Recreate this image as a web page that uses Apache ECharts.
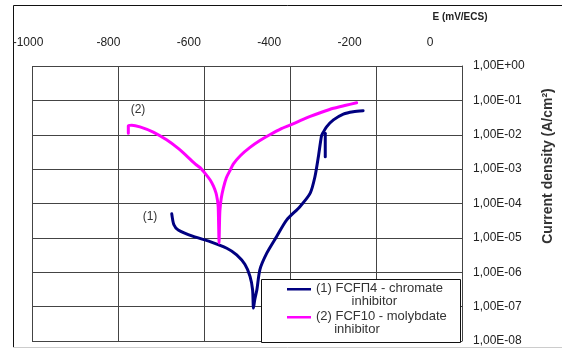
<!DOCTYPE html>
<html>
<head>
<meta charset="utf-8">
<script src="https://cdn.jsdelivr.net/npm/echarts@6/dist/echarts.min.js"></script>
<style>
  html, body { margin: 0; padding: 0; background: #fff; }
  #chart { width: 562px; height: 352px; }
</style>
</head>
<body>
<div id="chart"></div>
<script>
const xTicks = [-1000, -800, -600, -400, -200, 0]

// (1) FCFП4 - chromate inhibitor
const chromateE = [-675, -670, -660, -625, -586, -547, -524, -505, -493, -487, -485, -482, -477, -470, -454,
  -431, -408, -377, -353, -342, -334, -327, -324, -315, -299, -276, -253, -230]
const chromateI = [5.0e-5, 2.4e-5, 1.7e-5, 1.1e-5, 7.8e-6, 5.0e-6, 3.2e-6, 1.7e-6, 7.6e-7, 3.1e-7, 9.1e-8, 1.6e-7, 3.1e-7, 1.2e-6, 3.6e-6,
  1.1e-5, 3.3e-5, 8.1e-5, 2.0e-4, 6.0e-4, 2.3e-3, 8.9e-3, 1.1e-2, 1.7e-2, 2.7e-2, 4.0e-2, 4.7e-2, 5.0e-2]
// short tail near -320 mV
const chromateStubE = [-318, -318]
const chromateStubI = [1.1e-2, 2.3e-3]

// (2) FCF10 - molybdate inhibitor
const molybdateE = [-776, -776, -768, -749, -718, -687, -660, -640, -620, -609, -597, -586, -578, -572, -569, -567,
  -566, -565, -564, -563, -560, -555, -548, -540, -532, -515, -493, -470, -447, -420, -400, -375, -353, -325, -299, -270, -245]
const molybdateI = [1.1e-2, 1.8e-2, 1.9e-2, 1.7e-2, 1.2e-2, 7.1e-3, 4.0e-3, 2.4e-3, 1.4e-3, 1.1e-3, 7.4e-4, 4.9e-4, 3.2e-4, 2.0e-4, 1.3e-4, 8.1e-5,
  2.5e-5, 7.1e-6, 2.5e-5, 6.3e-5, 1.4e-4, 2.8e-4, 5.6e-4, 8.9e-4, 1.4e-3, 2.5e-3, 4.3e-3, 6.8e-3, 1.0e-2, 1.5e-2, 1.9e-2, 2.6e-2, 3.4e-2, 4.6e-2, 5.9e-2, 7.2e-2, 8.5e-2]

const seriesNames = ['(1) FCFП4 - chromate inhibitor', '(2) FCF10 - molybdate inhibitor']
const legendText = {
  '(1) FCFП4 - chromate inhibitor': '{a|(1) FCFП4 - chromate}\n{b|inhibitor}',
  '(2) FCF10 - molybdate inhibitor': '{a|(2) FCF10 - molybdate}\n{c|inhibitor}'
}

const zip = (xs, ys) => xs.map((x, i) => [x, ys[i]])
const font = 'Liberation Sans, Arial, sans-serif'

const chart = echarts.init(document.getElementById('chart'))
const option = {
  backgroundColor: '#fff',
  animation: false,
  textStyle: { fontFamily: font },
  grid: [
    { left: 32, top: 66, width: 430, height: 275 },
    // label-only axis for the potential scale at the top
    { left: 28, top: 52, width: 402, height: 1, show: false }
  ],
  xAxis: [
    {
      gridIndex: 0,
      type: 'value',
      min: -1000,
      max: 0,
      interval: 200,
      position: 'top',
      axisLine: { show: false },
      axisTick: { show: false },
      axisLabel: { show: false },
      splitLine: { show: true, lineStyle: { color: '#444', width: 1 } }
    },
    {
      gridIndex: 1,
      type: 'value',
      min: xTicks[0],
      max: xTicks[xTicks.length - 1],
      interval: 200,
      position: 'top',
      axisLine: { show: false },
      axisTick: { show: false },
      splitLine: { show: false },
      axisLabel: {
        margin: 3,
        color: '#222',
        fontSize: 12,
        fontFamily: font,
        formatter: v => String(v)
      }
    }
  ],
  yAxis: [
    {
      gridIndex: 0,
      type: 'log',
      logBase: 10,
      min: 1e-8,
      max: 1,
      position: 'right',
      axisLine: { show: true, lineStyle: { color: '#444' } },
      axisTick: { show: false },
      splitLine: { show: true, lineStyle: { color: '#444', width: 1 } },
      axisLabel: {
        margin: 11,
        color: '#222',
        fontSize: 12,
        fontFamily: font,
        formatter(v) {
          const e = Math.round(Math.log10(v))
          return '1,00E' + (e >= 0 ? '+' : '-') + String(Math.abs(e)).padStart(2, '0')
        }
      }
    },
    {
      gridIndex: 1,
      type: 'value',
      show: false
    }
  ],
  legend: {
    data: seriesNames,
    orient: 'vertical',
    left: 287,
    top: 282,
    padding: 0,
    itemGap: 2,
    itemWidth: 24,
    itemHeight: 14,
    selectedMode: false,
    icon: 'path://M0,0H24V2.6H0Z M0,13.9H0.05V14H0Z',
    formatter: name => legendText[name],
    textStyle: {
      color: '#333',
      fontSize: 13,
      lineHeight: 13,
      fontFamily: font,
      rich: {
        a: { color: '#333', fontSize: 13, lineHeight: 13, fontFamily: font },
        b: { color: '#333', fontSize: 13, lineHeight: 13, fontFamily: font, align: 'right', padding: [0, 46, 0, 0] },
        c: { color: '#333', fontSize: 13, lineHeight: 13, fontFamily: font, align: 'right', padding: [0, 67, 0, 0] }
      }
    }
  },
  graphic: [
    {
      type: 'polyline',
      shape: { points: [[562, 5.5], [13.5, 5.5], [13.5, 348]] },
      style: { stroke: '#111', lineWidth: 1, fill: null }
    },
    {
      type: 'line',
      shape: { x1: 13, y1: 347.5, x2: 562, y2: 347.5 },
      style: { stroke: '#ccc', lineWidth: 1 }
    },
    {
      type: 'rect',
      z: 3,
      shape: { x: 261.5, y: 279.5, width: 199, height: 63 },
      style: { fill: '#fff', stroke: '#111', lineWidth: 1 }
    },
    {
      type: 'text',
      x: 460,
      y: 17,
      style: { text: 'E (mV/ECS)', fill: '#222', font: 'bold 10px ' + font, align: 'center', verticalAlign: 'middle' }
    },
    {
      type: 'text',
      x: 548,
      y: 166,
      rotation: Math.PI / 2,
      style: { text: 'Current density (A/cm²)', fill: '#333', font: 'bold 14px ' + font, align: 'center', verticalAlign: 'middle' }
    },
    {
      type: 'text',
      x: 150,
      y: 217,
      style: { text: '(1)', fill: '#333', font: '12px ' + font, align: 'center', verticalAlign: 'middle' }
    },
    {
      type: 'text',
      x: 138,
      y: 110,
      style: { text: '(2)', fill: '#333', font: '12px ' + font, align: 'center', verticalAlign: 'middle' }
    }
  ],
  series: [
    {
      name: seriesNames[0],
      type: 'line',
      xAxisIndex: 0,
      yAxisIndex: 0,
      data: zip(chromateE, chromateI),
      showSymbol: false,
      symbol: 'none',
      smooth: 0.25,
      color: '#000080',
      lineStyle: { width: 3, cap: 'round', join: 'round' },
      z: 2
    },
    {
      name: seriesNames[0],
      type: 'line',
      xAxisIndex: 0,
      yAxisIndex: 0,
      data: zip(chromateStubE, chromateStubI),
      showSymbol: false,
      symbol: 'none',
      color: '#000080',
      lineStyle: { width: 3, cap: 'round' },
      z: 2
    },
    {
      name: seriesNames[1],
      type: 'line',
      xAxisIndex: 0,
      yAxisIndex: 0,
      data: zip(molybdateE, molybdateI),
      showSymbol: false,
      symbol: 'none',
      smooth: 0.25,
      color: '#ff00ff',
      lineStyle: { width: 3, cap: 'round', join: 'round' },
      z: 2
    }
  ]
}
chart.setOption(option)
</script>
</body>
</html>
